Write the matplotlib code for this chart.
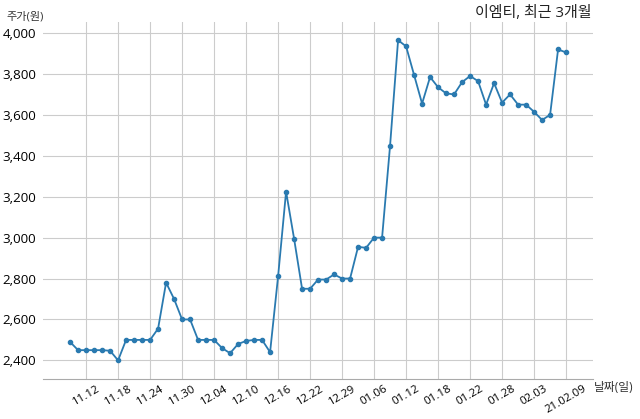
import matplotlib.pyplot as plt

plt.rcParams["font.family"] = ["Open Sans", "Noto Sans CJK KR", "DejaVu Sans"]

prices = [
    2490, 2450, 2450, 2450, 2450, 2447, 2400, 2500, 2500, 2500,
    2500, 2555, 2780, 2700, 2600, 2600, 2500, 2500, 2500, 2460,
    2435, 2480, 2495, 2500, 2500, 2440, 2810, 3225, 2995, 2750,
    2750, 2795, 2795, 2820, 2800, 2800, 2955, 2950, 3000, 3000,
    3450, 3965, 3935, 3795, 3655, 3785, 3735, 3705, 3700, 3760,
    3790, 3765, 3650, 3755, 3660, 3700, 3650, 3650, 3615, 3575,
    3600, 3920, 3905,
]
tick_labels = [
    "11.12", "11.18", "11.24", "11.30", "12.04", "12.10", "12.16", "12.22",
    "12.29", "01.06", "01.12", "01.18", "01.22", "01.28", "02.03", "21.02.09",
]
y_ticks = [2400, 2600, 2800, 3000, 3200, 3400, 3600, 3800, 4000]

fig = plt.figure(figsize=(6.4, 4.19), dpi=100)
ax = fig.add_axes([0.067, 0.095, 0.86, 0.853])

x = list(range(len(prices)))
ax.plot(x, prices, color="#2a7ab0", lw=1.3, marker="o", ms=3.0)

ax.set_xlim(-3.4, 65.4)
ax.set_ylim(2308, 4055)
ax.set_xticks(list(range(2, len(prices), 4)))
ax.set_xticklabels(tick_labels, rotation=30, ha="center", fontsize=8.2)
ax.set_yticks(y_ticks)
ax.set_yticklabels([f"{v:,}" for v in y_ticks], fontsize=9.6)
ax.tick_params(length=0, pad=5)
ax.tick_params(axis="x", pad=3)

ax.grid(True, color="#cccccc", lw=0.8)
ax.set_axisbelow(True)
for side in ("left", "top", "right"):
    ax.spines[side].set_visible(False)
ax.spines["bottom"].set_color("#aaaaaa")
ax.spines["bottom"].set_linewidth(0.8)

fig.text(0.924, 0.968, "이엠티, 최근 3개월", ha="right", va="center", fontsize=10.8, color="#222222")
fig.text(0.01, 0.96, "주가(원)", ha="left", va="center", fontsize=8, color="#333333")
fig.text(0.928, 0.074, "날짜(일)", ha="left", va="center", fontsize=8.5, color="#333333")

fig.savefig("out.png", dpi=100)
